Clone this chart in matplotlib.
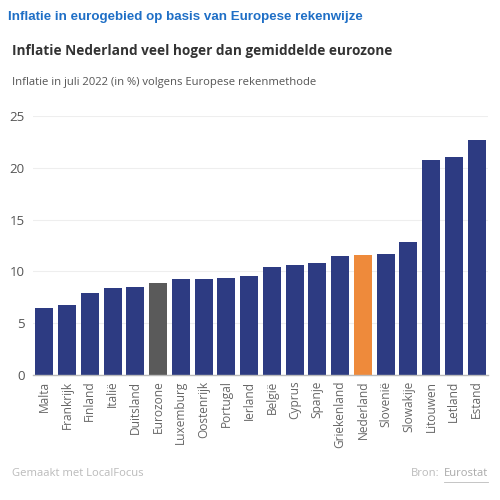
import matplotlib.pyplot as plt

# inflatie juli 2022 (HICP)
landen = ["Malta", "Frankrijk", "Finland", "Italië", "Duitsland", "Eurozone",
          "Luxemburg", "Oostenrijk", "Portugal", "Ierland", "België", "Cyprus",
          "Spanje", "Griekenland", "Nederland", "Slovenië", "Slowakije",
          "Litouwen", "Letland", "Estand"]
inflatie = [6.5, 6.8, 7.9, 8.4, 8.5, 8.9, 9.3, 9.3, 9.4, 9.6, 10.4, 10.6,
            10.8, 11.5, 11.6, 11.7, 12.8, 20.8, 21.0, 22.7]
y_ticks = [0, 5, 10, 15, 20, 25]

NAVY = "#2d3b82"
GREY = "#5a5a5a"
ORANGE = "#ee8a3b"

colors = []
for land in landen:
    if land == "Eurozone":
        colors.append(GREY)
    elif land == "Nederland":
        colors.append(ORANGE)
    else:
        colors.append(NAVY)

fig = plt.figure(figsize=(5, 5), dpi=100)
ax = fig.add_axes([0.066, 0.25, 0.91, 0.518])

x = range(len(landen))
ax.bar(x, inflatie, width=0.8, color=colors, zorder=2)
ax.set_xlim(-0.5, len(landen) - 0.5)
ax.set_ylim(0, 25)
ax.set_yticks(y_ticks)
ax.set_yticklabels([str(t) for t in y_ticks], fontsize=9.5, color="#555555",
                   family="Open Sans")
ax.set_xticks(list(x))
ax.set_xticklabels(landen, rotation=90, fontsize=8.6, color="#666666",
                   family="Open Sans")
ax.tick_params(axis="both", length=0, pad=4)
ax.tick_params(axis="y", pad=6)
ax.grid(axis="y", color="#eeeeee", linewidth=0.8, zorder=0)
for side in ["top", "right", "left"]:
    ax.spines[side].set_visible(False)
ax.spines["bottom"].set_color("#bbbbbb")
ax.spines["bottom"].set_linewidth(1.0)

# titels
fig.text(0.016, 0.966, "Inflatie in eurogebied op basis van Europese rekenwijze",
         fontsize=9.6, fontweight="bold", color="#1f6fc6",
         family="Liberation Sans", va="center")
fig.text(0.024, 0.898, "Inflatie Nederland veel hoger dan gemiddelde eurozone",
         fontsize=9.85, fontweight="bold", color="#333333",
         family="Open Sans", va="center")
fig.text(0.024, 0.836, "Inflatie in juli 2022 (in %) volgens Europese rekenmethode",
         fontsize=8.1, color="#555555", family="Open Sans", va="center")

# voetnoot
fig.text(0.024, 0.052, "Gemaakt met LocalFocus", fontsize=8.1,
         color="#bbbbbb", family="Open Sans", va="center")
fig.text(0.976, 0.052, "Eurostat", fontsize=8.1, color="#aaaaaa",
         family="Open Sans", va="center", ha="right")
fig.text(0.878, 0.052, "Bron:", fontsize=8.1, color="#bbbbbb",
         family="Open Sans", va="center", ha="right")
fig.add_artist(plt.Line2D([0.887, 0.976], [0.037, 0.037], color="#bbbbbb",
                          linewidth=0.6, transform=fig.transFigure))

fig.savefig("out.png", dpi=100)
